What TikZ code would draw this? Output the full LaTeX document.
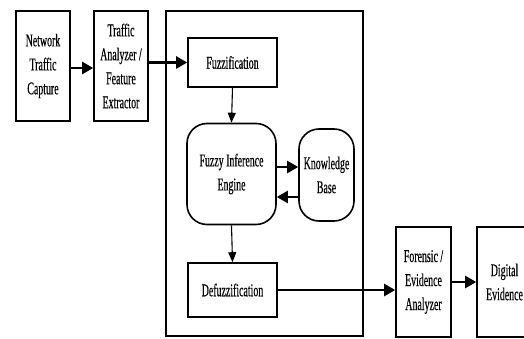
\documentclass[tikz,border=0pt]{standalone}
\usepackage{fontspec}
\setmainfont[FakeStretch=0.55,FakeBold=0.4]{Liberation Serif}
\usetikzlibrary{arrows.meta}
\begin{document}
\begin{tikzpicture}[x=1pt,y=-1pt,
 box/.style={draw, line width=1.6pt, align=center, inner sep=0pt, font=\fontsize{18}{24}\selectfont},
 rbox/.style={box, rounded corners=20pt},
 arr/.style={line width=2.2pt, -{Triangle[length=11pt,width=12pt]}},
 thinarr/.style={line width=1.1pt, -{Triangle[length=10pt,width=8pt]}}]
\useasboundingbox (0,0) rectangle (524,339);
\node[box, minimum width=54pt, minimum height=110pt] (ntc) at (43,66) {Network\\Traffic\\Capture};
\node[box, minimum width=54pt, minimum height=110pt] (taf) at (121,66) {Traffic\\Analyzer /\\Feature\\Extractor};
\node[draw, line width=1.6pt, minimum width=197pt, minimum height=325pt] (sys) at (264.5,173.5) {};
\node[box, minimum width=89pt, minimum height=49pt] (fuzz) at (232.5,62.5) {Fuzzification};
\node[rbox, minimum width=89pt, minimum height=101pt] (eng) at (231.5,174) {Fuzzy Inference\\Engine};
\node[rbox, minimum width=55pt, minimum height=92pt] (kb) at (326.5,175) {Knowledge\\Base};
\node[box, minimum width=89pt, minimum height=54pt] (defuzz) at (232.5,290) {Defuzzification};
\node[box, minimum width=55pt, minimum height=110pt] (fea) at (423.5,282) {Forensic /\\Evidence\\Analyzer};
\node[box, minimum width=55pt, minimum height=110pt] (de) at (504.5,282) {Digital\\Evidence};
\draw[arr] (ntc.east |- 0,68) -- (taf.west |- 0,68);
\draw[arr] (taf.east |- fuzz.west) -- (fuzz.west);
\draw[thinarr] (fuzz.south) -- (eng.north);
\draw[arr] (eng.east |- 0,167) -- (kb.west |- 0,167);
\draw[arr] (kb.west |- 0,197) -- (eng.east |- 0,197);
\draw[thinarr] (eng.south) -- (defuzz.north);
\draw[arr] (defuzz.east) -- (fea.west |- defuzz.east);
\draw[arr] (fea.east |- 0,282) -- (de.west |- 0,282);
\end{tikzpicture}
\end{document}
